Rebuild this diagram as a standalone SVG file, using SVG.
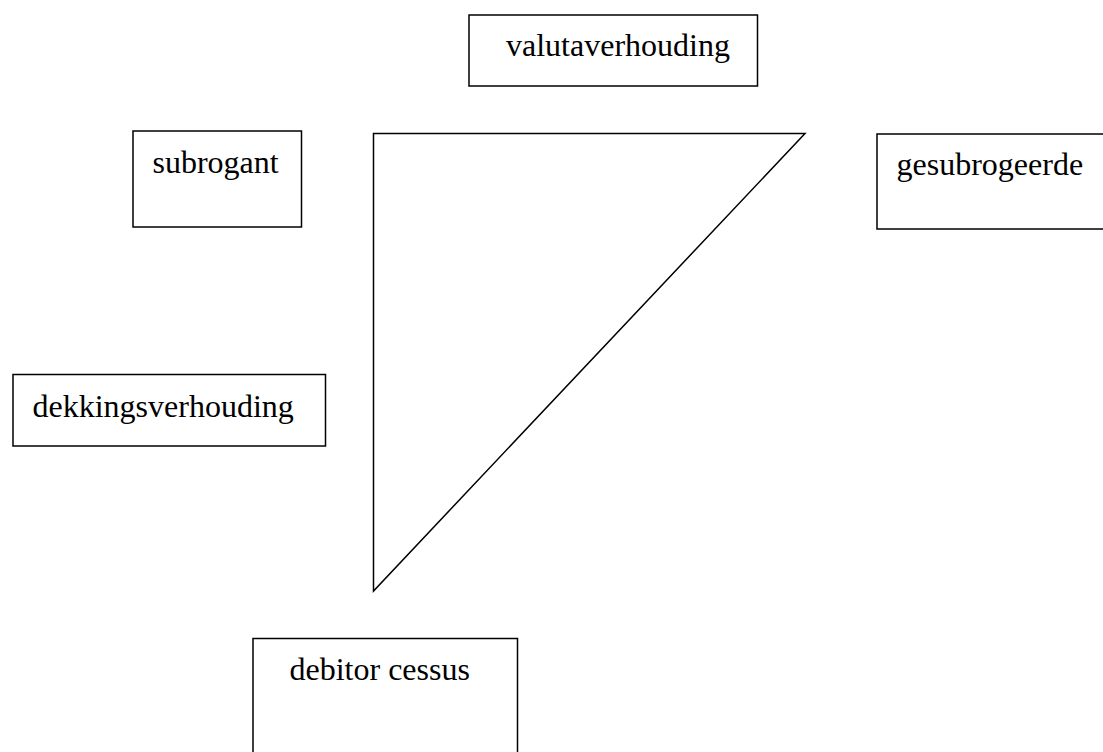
<svg xmlns="http://www.w3.org/2000/svg" width="1103" height="752" viewBox="0 0 1103 752">
<style>
.box{fill:#fff;stroke:#000;stroke-width:1.5}
.lbl{font-family:"Liberation Serif","Times New Roman",serif;font-size:32px;fill:#000}
.edge{fill:none;stroke:#000;stroke-width:1.5;stroke-linejoin:miter}
</style>
<rect width="1103" height="752" fill="#fff"/>
<g id="connectors">
<path class="edge" d="M373.5,133.5 L805,133.5 L373.5,591 Z"/>
</g>
<g id="valutaverhouding">
<rect class="box" x="469" y="15" width="288.5" height="71"/>
<text class="lbl" x="506" y="56">valutaverhouding</text>
</g>
<g id="subrogant">
<rect class="box" x="133" y="131" width="168.5" height="96"/>
<text class="lbl" x="152.5" y="173">subrogant</text>
</g>
<g id="gesubrogeerde">
<rect class="box" x="877" y="134" width="240" height="95"/>
<text class="lbl" x="896.5" y="175">gesubrogeerde</text>
</g>
<g id="dekkingsverhouding">
<rect class="box" x="13" y="374.5" width="312.5" height="71.5"/>
<text class="lbl" x="32.5" y="416.5">dekkingsverhouding</text>
</g>
<g id="debitor-cessus">
<rect class="box" x="253" y="638.5" width="264.5" height="130"/>
<text class="lbl" x="289.5" y="680">debitor cessus</text>
</g>
</svg>
